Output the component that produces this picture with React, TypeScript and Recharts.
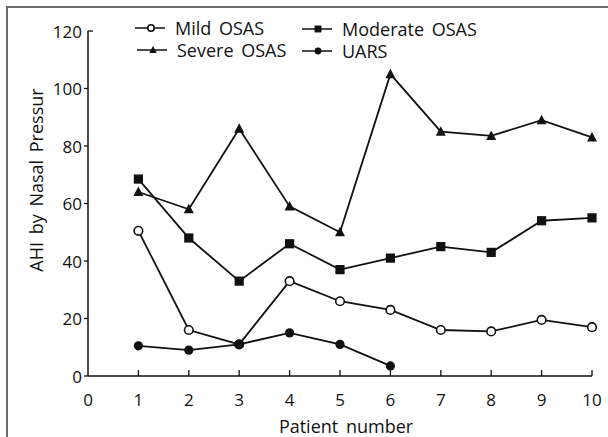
import React from 'react'
import { LineChart, Line, XAxis, YAxis, Label } from 'recharts'

// values, patients 1..10
const patients = [1, 2, 3, 4, 5, 6, 7, 8, 9, 10]
const mildOsas = [50.5, 16, 11, 33, 26, 23, 16, 15.5, 19.5, 17]
const moderateOsas = [68.5, 48, 33, 46, 37, 41, 45, 43, 54, 55]
const severeOsas = [64, 58, 86, 59, 50, 105, 85, 83.5, 89, 83]
const uars = [10.5, 9, 11, 15, 11, 3.5]

const xTicks = [0, 1, 2, 3, 4, 5, 6, 7, 8, 9, 10]
const yTicks = [0, 20, 40, 60, 80, 100, 120]

const FONT = '"Open Sans", "DejaVu Sans", sans-serif'
const INK = '#111'

const data = patients.map((p, i) => ({
  patient: p,
  mild: mildOsas[i],
  moderate: moderateOsas[i],
  severe: severeOsas[i],
  uars: i < uars.length ? uars[i] : null,
}))

type Marker = 'open' | 'square' | 'triangle' | 'dot'

function MarkerShape({ kind, cx, cy, s = 1 }: { kind: Marker; cx: number; cy: number; s?: number }) {
  if (kind === 'open') {
    return <circle cx={cx} cy={cy} r={4.3 * s} fill="#fff" stroke={INK} strokeWidth={1.6} />
  }
  if (kind === 'square') {
    const h = 4.6 * s
    return <rect x={cx - h} y={cy - h} width={h * 2} height={h * 2} fill={INK} />
  }
  if (kind === 'triangle') {
    return (
      <polygon
        points={`${cx},${cy - 5.5 * s} ${cx - 5 * s},${cy + 4 * s} ${cx + 5 * s},${cy + 4 * s}`}
        fill={INK}
      />
    )
  }
  return <circle cx={cx} cy={cy} r={4.6 * s} fill={INK} />
}

const makeDot = (kind: Marker) => (props: any) => {
  const { cx, cy, index } = props
  if (cx == null || cy == null || props.value == null) return <g key={`${kind}-${index}`} />
  return <MarkerShape key={`${kind}-${index}`} kind={kind} cx={cx} cy={cy} />
}

function XTick({ x, y, payload }: any) {
  return (
    <g>
      {payload.value > 0 && <line x1={x} y1={y} x2={x} y2={y - 6} stroke={INK} strokeWidth={1.3} />}
      <text x={x} y={y + 23} textAnchor="middle" dominantBaseline="central" fontSize={17} fill={INK} fontFamily={FONT}>
        {payload.value}
      </text>
    </g>
  )
}

function YTick({ x, y, payload }: any) {
  const top = payload.value === 120
  return (
    <g>
      <line x1={top ? x : x - 4} y1={y} x2={top ? x + 5 : x} y2={y} stroke={INK} strokeWidth={1.3} />
      <text x={x - 6} y={y} textAnchor="end" dominantBaseline="central" fontSize={17} fill={INK} fontFamily={FONT}>
        {payload.value}
      </text>
    </g>
  )
}

const legendItems: { label: string; kind: Marker; lx: number; ly: number }[] = [
  { label: 'Mild OSAS', kind: 'open', lx: 135, ly: 28 },
  { label: 'Moderate OSAS', kind: 'square', lx: 302, ly: 29 },
  { label: 'Severe OSAS', kind: 'triangle', lx: 137, ly: 50 },
  { label: 'UARS', kind: 'dot', lx: 302, ly: 51 },
]

function ChartLegend() {
  return (
    <svg width={608} height={70} style={{ position: 'absolute', left: 0, top: 0 }}>
      {legendItems.map((it) => (
        <g key={it.label}>
          <line x1={it.lx} y1={it.ly} x2={it.lx + 30} y2={it.ly} stroke={INK} strokeWidth={1.5} />
          <MarkerShape kind={it.kind} cx={it.lx + 16} cy={it.ly} s={0.75} />
          <text
            x={it.lx + 40}
            y={it.ly}
            dominantBaseline="central"
            fontSize={18}
            fill={INK}
            fontFamily={FONT}
            style={{ wordSpacing: 3 }}
          >
            {it.label}
          </text>
        </g>
      ))}
    </svg>
  )
}

export default function App() {
  return (
    <div
      style={{
        position: 'absolute',
        left: 0,
        top: 0,
        width: 608,
        height: 437,
        background: '#fff',
        overflow: 'hidden',
      }}
    >
      <div
        style={{
          position: 'absolute',
          left: 6,
          top: 6,
          right: -10,
          bottom: -10,
          borderTop: '2px solid #6a6a6a',
          borderLeft: '2px solid #6a6a6a',
        }}
      />
      <div style={{ position: 'absolute', left: 0, top: 0 }}>
        <LineChart width={608} height={437} data={data} margin={{ top: 31, right: 16, bottom: 31, left: 0 }}>
          <XAxis
            dataKey="patient"
            type="number"
            domain={[0, 10]}
            ticks={xTicks}
            interval={0}
            height={30}
            tickSize={0}
            tickMargin={0}
            tickLine={false}
            axisLine={{ stroke: INK, strokeWidth: 1.5 }}
            tick={<XTick />}
          >
            <Label
              content={() => (
                <text x={346} y={426} textAnchor="middle" dominantBaseline="central" fontSize={18} fill={INK} fontFamily={FONT} style={{ wordSpacing: 3 }}>
                  Patient number
                </text>
              )}
            />
          </XAxis>
          <YAxis
            type="number"
            domain={[0, 120]}
            ticks={yTicks}
            interval={0}
            width={88}
            tickSize={0}
            tickMargin={0}
            tickLine={false}
            axisLine={{ stroke: INK, strokeWidth: 1.5 }}
            tick={<YTick />}
          >
            <Label
              content={() => (
                <text
                  x={36}
                  y={180}
                  transform="rotate(-90, 36, 180)"
                  textAnchor="middle"
                  dominantBaseline="central"
                  fontSize={18}
                  fill={INK}
                  fontFamily={FONT}
                  style={{ wordSpacing: 3 }}
                >
                  AHI by Nasal Pressur
                </text>
              )}
            />
          </YAxis>
          <Line type="linear" dataKey="severe" stroke={INK} strokeWidth={1.8} dot={makeDot('triangle')} activeDot={false} isAnimationActive={false} />
          <Line type="linear" dataKey="moderate" stroke={INK} strokeWidth={1.8} dot={makeDot('square')} activeDot={false} isAnimationActive={false} />
          <Line type="linear" dataKey="mild" stroke={INK} strokeWidth={1.8} dot={makeDot('open')} activeDot={false} isAnimationActive={false} />
          <Line type="linear" dataKey="uars" stroke={INK} strokeWidth={1.8} dot={makeDot('dot')} activeDot={false} isAnimationActive={false} />
        </LineChart>
      </div>
      <ChartLegend />
    </div>
  )
}
